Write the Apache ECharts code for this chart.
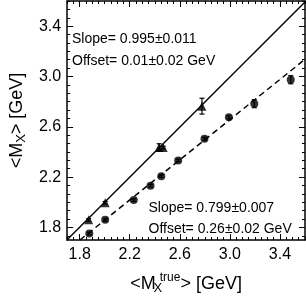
<!DOCTYPE html>
<html>
<head>
<meta charset="utf-8">
<script src="https://cdn.jsdelivr.net/npm/echarts@6/dist/echarts.min.js"></script>
<style>
html,body{margin:0;padding:0;background:#fff;}
#c{width:306px;height:300px;}
</style>
</head>
<body>
<div id="c"></div>
<script>
// ---- data ----
const xMajor = [1.8, 2.2, 2.6, 3.0, 3.4];
const yMajor = [1.8, 2.2, 2.6, 3.0, 3.4];
const circX   = [1.877, 2.004, 2.232, 2.366, 2.452, 2.587, 2.797, 2.992, 3.195, 3.486];
const circY   = [1.751, 1.860, 2.017, 2.131, 2.207, 2.333, 2.505, 2.675, 2.784, 2.974];
const circErr = [0.01, 0.01, 0.01, 0.01, 0.01, 0.01, 0.012, 0.012, 0.032, 0.032];
const triX    = [1.872, 2.004, 2.435, 2.467, 2.777];
const triY    = [1.860, 1.996, 2.435, 2.435, 2.764];
const triErr  = [0.01, 0.01, 0.03, 0.01, 0.063];
const fitSlope  = [0.995, 0.799];
const fitOffset = [0.01, 0.26];
const fitText = [
  ['Slope= 0.995\u00b10.011', 'Offset= 0.01\u00b10.02 GeV'],
  ['Slope= 0.799\u00b10.007', 'Offset= 0.26\u00b10.02 GeV']
];
const xRange = [1.7, 3.6];
const yRange = [1.7, 3.6];

// minor tick positions
const xMinor = [];
for (let k = 0; ; k++) { const v = +(xRange[0] + k * 0.05).toFixed(4); if (v > xRange[1] + 1e-9) break; xMinor.push(v); }
const yMinor = [];
for (let k = -3; ; k++) { const v = +(1.8 + k * 0.4 / 6).toFixed(4); if (v > yRange[1] + 1e-9) break; if (v >= yRange[0] - 1e-9) yMinor.push(v); }

const FONT = "'Liberation Sans', Arial, Helvetica, sans-serif";
const chart = echarts.init(document.getElementById('c'), null, {renderer: 'canvas'});

function fitLine(i) {
  const s = fitSlope[i], o = fitOffset[i];
  const x0 = Math.max(xRange[0], (yRange[0] - o) / s);
  return [[x0, s * x0 + o], [xRange[1], s * xRange[1] + o]];
}

function axisBase(type, pos, range, ticks, len, showLine, labels, extra) {
  const a = Object.assign({
    type: 'value', position: pos, min: range[0], max: range[1],
    axisLine: {show: showLine, onZero: false, lineStyle: {color: '#000', width: 1.5}},
    axisTick: {show: true, inside: true, length: len, customValues: ticks, lineStyle: {color: '#000', width: 1}},
    axisLabel: labels ? {show: true, customValues: labels, formatter: v => (+v).toFixed(1),
      color: '#000', fontSize: 16, fontFamily: FONT, margin: type === 'x' ? 7 : 6} : {show: false},
    splitLine: {show: false}
  }, extra || {});
  return a;
}

const richBase = {
  sub: {fontSize: 13, fontFamily: FONT, color: '#000', padding: [9, 0, 0, 0]},
  subn: {fontSize: 13, fontFamily: FONT, color: '#000', padding: [9, 0, 0, 0], width: 4},
  sup: {fontSize: 12, fontFamily: FONT, color: '#000', padding: [0, 0, 12, 0]}
};

const errItem = function (params, api) {
  const x = api.value(0), y = api.value(1), e = api.value(2);
  const p1 = api.coord([x, y - e]), p2 = api.coord([x, y + e]);
  const cw = 2.5;
  return {type: 'group', children: [
    {type: 'line', shape: {x1: p1[0], y1: p1[1], x2: p2[0], y2: p2[1]}, style: {stroke: '#000', lineWidth: 1.2}},
    {type: 'line', shape: {x1: p1[0] - cw, y1: p1[1], x2: p1[0] + cw, y2: p1[1]}, style: {stroke: '#000', lineWidth: 1.2}},
    {type: 'line', shape: {x1: p2[0] - cw, y1: p2[1], x2: p2[0] + cw, y2: p2[1]}, style: {stroke: '#000', lineWidth: 1.2}}
  ]};
};

chart.setOption({
  backgroundColor: '#fff',
  animation: false,
  grid: {left: 55, right: 1, top: 1, bottom: 50, containLabel: false},
  xAxis: [
    axisBase('x', 'bottom', xRange, xMajor, 6, true, xMajor, {
      name: '<M{subn|X}{sup|true}> [GeV]', nameLocation: 'middle', nameGap: 32,
      nameTextStyle: {fontSize: 18, fontFamily: FONT, color: '#000', rich: richBase}
    }),
    axisBase('x', 'bottom', xRange, xMinor, 3, false, null),
    axisBase('x', 'top', xRange, xMajor, 6, true, null),
    axisBase('x', 'top', xRange, xMinor, 3, false, null)
  ],
  yAxis: [
    axisBase('y', 'left', yRange, yMajor, 6, true, yMajor, {
      name: '<M{sub|X}> [GeV]', nameLocation: 'middle', nameGap: 38,
      nameTextStyle: {fontSize: 18, fontFamily: FONT, color: '#000', rich: richBase}
    }),
    axisBase('y', 'left', yRange, yMinor, 3, false, null),
    axisBase('y', 'right', yRange, yMajor, 6, true, null),
    axisBase('y', 'right', yRange, yMinor, 3, false, null)
  ],
  series: [
    {type: 'line', data: fitLine(0), symbol: 'none', clip: true,
     lineStyle: {color: '#000', width: 1.4, type: 'solid'}},
    {type: 'line', data: fitLine(1), symbol: 'none', clip: true,
     lineStyle: {color: '#000', width: 1.5, type: [6, 4]}},
    {type: 'custom', renderItem: errItem, data: circX.map((x, i) => [x, circY[i], circErr[i]]), z: 3},
    {type: 'custom', renderItem: errItem, data: triX.map((x, i) => [x, triY[i], triErr[i]]), z: 3},
    {type: 'scatter', data: circX.map((x, i) => [x, circY[i]]), symbol: 'circle', symbolSize: 8,
     itemStyle: {color: '#000'}, z: 4},
    {type: 'scatter', data: triX.map((x, i) => [x, triY[i]]), symbol: 'triangle', symbolSize: 9,
     itemStyle: {color: '#000'}, z: 4}
  ],
  graphic: [
    {type: 'text', style: {x: 72, y: 39.5, text: fitText[0][0], font: '14px ' + FONT, fill: '#000', verticalAlign: 'middle'}},
    {type: 'text', style: {x: 72, y: 61, text: fitText[0][1], font: '14px ' + FONT, fill: '#000', verticalAlign: 'middle'}},
    {type: 'text', style: {x: 148.5, y: 208.5, text: fitText[1][0], font: '14px ' + FONT, fill: '#000', verticalAlign: 'middle'}},
    {type: 'text', style: {x: 148.5, y: 229, text: fitText[1][1], font: '14px ' + FONT, fill: '#000', verticalAlign: 'middle'}}
  ]
});
</script>
</body>
</html>
